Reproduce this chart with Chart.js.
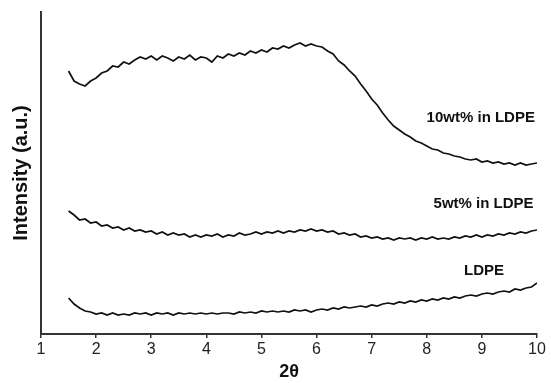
<!DOCTYPE html>
<html>
<head>
<meta charset="utf-8">
<script src="https://cdn.jsdelivr.net/npm/chart.js@4"></script>
<style>
  html, body { margin: 0; padding: 0; background: #fff; }
  #wrap { width: 551px; height: 383px; }
</style>
</head>
<body>
<div id="wrap"><canvas id="xrd"></canvas></div>
<script>
// 2-theta sampling grid
const twoTheta = [1.5, 1.6, 1.7, 1.8, 1.9, 2.0, 2.1, 2.2, 2.3, 2.4, 2.5, 2.6, 2.7, 2.8, 2.9,
  3.0, 3.1, 3.2, 3.3, 3.4, 3.5, 3.6, 3.7, 3.8, 3.9, 4.0, 4.1, 4.2, 4.3, 4.4, 4.5, 4.6, 4.7,
  4.8, 4.9, 5.0, 5.1, 5.2, 5.3, 5.4, 5.5, 5.6, 5.7, 5.8, 5.9, 6.0, 6.1, 6.2, 6.3, 6.4, 6.5,
  6.6, 6.7, 6.8, 6.9, 7.0, 7.1, 7.2, 7.3, 7.4, 7.5, 7.6, 7.7, 7.8, 7.9, 8.0, 8.1, 8.2, 8.3,
  8.4, 8.5, 8.6, 8.7, 8.8, 8.9, 9.0, 9.1, 9.2, 9.3, 9.4, 9.5, 9.6, 9.7, 9.8, 9.9, 10.0];

// intensities (arbitrary units, offset curves)
const wt10 = [263, 253, 250, 248, 253, 256, 261, 263, 268, 267, 272, 270, 274, 277, 275,
  278, 274, 278, 276, 273, 277, 275, 279, 274, 277, 276, 272, 278, 276, 280, 278, 281, 279,
  283, 281, 284, 282, 286, 285, 288, 286, 289, 291, 288, 290, 288, 287, 283, 280, 273, 269,
  263, 258, 250, 243, 235, 229, 221, 214, 208, 204, 200, 197, 193, 191, 188, 185, 184, 181,
  180, 178, 177, 175, 174, 175, 172, 173, 171, 172, 170, 171, 169, 171, 169, 170, 171];

const wt5 = [123, 119, 114, 115, 111, 112, 108, 109, 106, 107, 104, 106, 103, 104, 102,
  103, 100, 102, 99, 101, 99, 100, 97, 99, 97, 99, 98, 100, 97, 99, 98, 101, 99,
  100, 102, 100, 102, 101, 103, 101, 103, 102, 104, 103, 105, 103, 104, 102, 103, 100, 101,
  99, 100, 97, 98, 96, 97, 95, 96, 94, 96, 95, 96, 94, 96, 95, 97, 95, 96,
  95, 97, 96, 98, 97, 99, 97, 99, 98, 100, 99, 101, 100, 102, 101, 103, 104];

const ldpe = [36, 30, 26, 23, 22, 20, 21, 19, 21, 19, 20, 19, 21, 20, 21,
  19, 21, 20, 21, 19, 21, 20, 21, 20, 21, 20, 21, 20, 21, 21, 20, 22, 21,
  22, 21, 23, 22, 23, 22, 23, 22, 24, 23, 24, 22, 24, 25, 24, 26, 25, 27,
  26, 27, 28, 27, 29, 28, 30, 31, 30, 32, 31, 33, 32, 34, 33, 35, 34, 36,
  35, 37, 36, 38, 39, 38, 40, 41, 40, 42, 43, 42, 45, 44, 46, 47, 51];

const seriesNames = ["10wt% in LDPE", "5wt% in LDPE", "LDPE"];
const xTicks = [1, 2, 3, 4, 5, 6, 7, 8, 9, 10];

const toPoints = (ys) => ys.map((y, i) => ({ x: twoTheta[i], y: y }));

const lineStyle = {
  borderColor: "#111",
  borderWidth: 1.7,
  pointRadius: 0,
  tension: 0,
  fill: false,
};

// curve labels, placed in data coordinates
const curveLabels = {
  id: "curveLabels",
  afterDatasetsDraw(chart) {
    const { ctx, scales } = chart;
    const spots = [[8.98, 216], [9.03, 130], [9.04, 63]];
    ctx.save();
    ctx.font = "bold 15px 'Liberation Sans', Arial, sans-serif";
    ctx.fillStyle = "#111";
    ctx.textAlign = "center";
    ctx.textBaseline = "middle";
    seriesNames.forEach((name, i) => {
      ctx.fillText(name, scales.x.getPixelForValue(spots[i][0]), scales.y.getPixelForValue(spots[i][1]));
    });
    ctx.restore();
  },
};

new Chart(document.getElementById("xrd"), {
  type: "line",
  data: {
    datasets: [
      { label: seriesNames[0], data: toPoints(wt10), ...lineStyle },
      { label: seriesNames[1], data: toPoints(wt5), ...lineStyle },
      { label: seriesNames[2], data: toPoints(ldpe), ...lineStyle },
    ],
  },
  options: {
    responsive: true,
    maintainAspectRatio: false,
    animation: false,
    layout: { padding: { top: 12, right: 14, left: 0, bottom: 0 } },
    plugins: {
      legend: { display: false },
      tooltip: { enabled: false },
    },
    scales: {
      x: {
        type: "linear",
        min: 1,
        max: 10,
        afterBuildTicks: (axis) => {
          axis.ticks = xTicks.map((v) => ({ value: v }));
        },
        afterFit: (axis) => {
          axis.height = 49;
          axis.paddingLeft = 0;
          axis.paddingRight = 0;
        },
        ticks: {
          color: "#222",
          font: { family: "'Liberation Sans', Arial, sans-serif", size: 16 },
          padding: 2,
          maxRotation: 0,
        },
        grid: {
          display: true,
          drawOnChartArea: false,
          drawTicks: true,
          tickLength: 4,
          color: "#333",
          lineWidth: 1.5,
        },
        border: { display: true, color: "#333", width: 2 },
        title: {
          display: true,
          text: "2θ",
          color: "#111",
          font: { family: "'Liberation Sans', Arial, sans-serif", size: 18, weight: "bold" },
          padding: { top: 0, bottom: 0 },
        },
      },
      y: {
        min: 0,
        max: 322,
        afterFit: (axis) => {
          axis.width = 41;
        },
        ticks: { display: false },
        grid: { display: false },
        border: { display: true, color: "#333", width: 2 },
        title: {
          display: true,
          text: "Intensity (a.u.)",
          color: "#111",
          font: { family: "'Liberation Sans', Arial, sans-serif", size: 20, weight: "bold" },
          padding: { top: 9, bottom: 0 },
        },
      },
    },
  },
  plugins: [curveLabels],
});
</script>
</body>
</html>
